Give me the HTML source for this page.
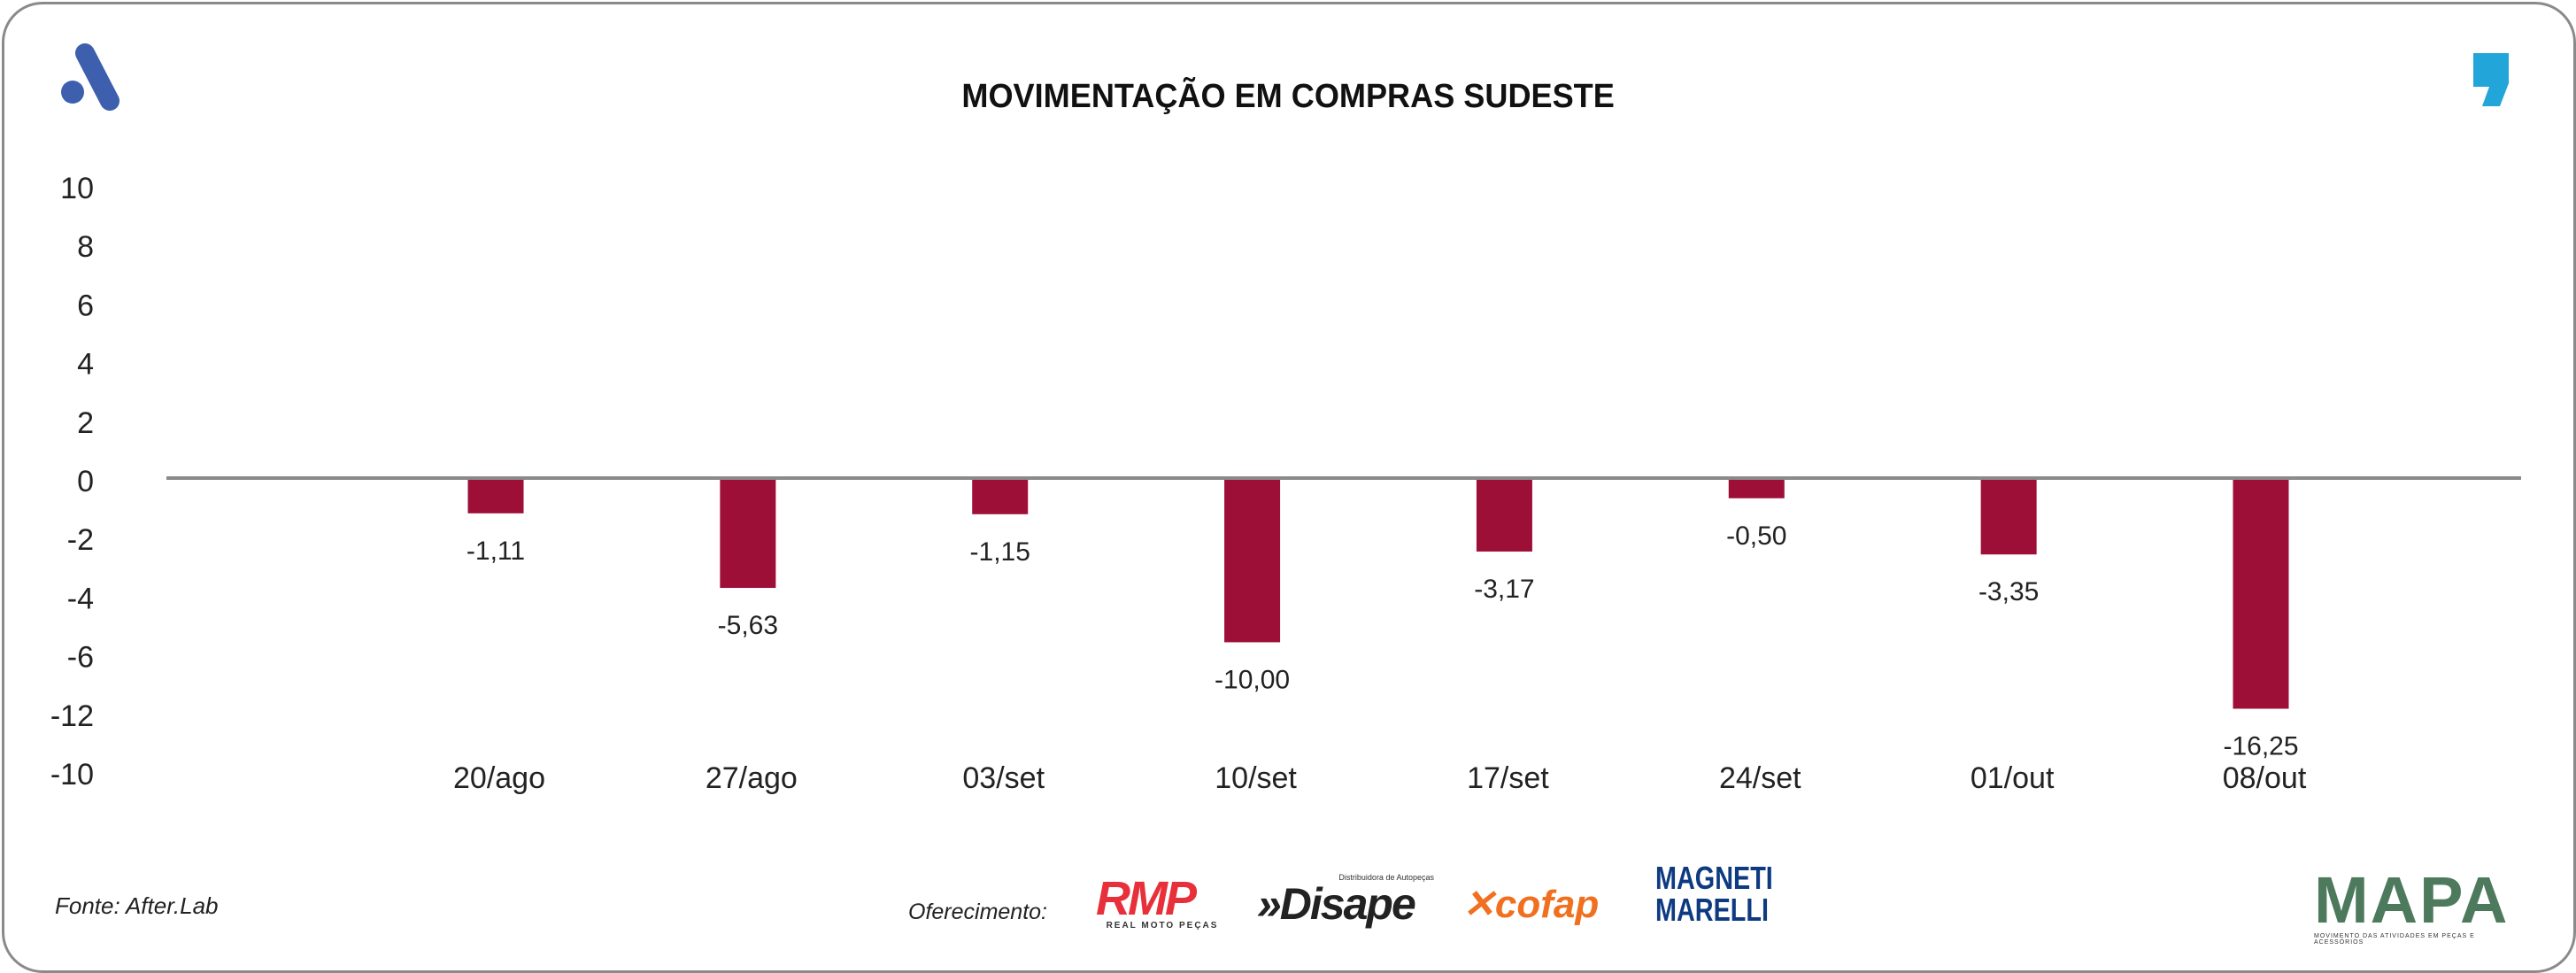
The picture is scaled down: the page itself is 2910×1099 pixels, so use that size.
<!DOCTYPE html>
<html><head><meta charset="utf-8">
<style>
html,body{margin:0;padding:0;background:#fff;}
body{width:2910px;height:1099px;position:relative;overflow:hidden;font-family:"Liberation Sans",sans-serif;}
.frame{position:absolute;left:2px;top:2px;width:2902px;height:1091px;border:3px solid #8a8a8a;border-radius:46px;}
.title{position:absolute;left:0;width:2910px;top:88px;text-align:center;font-weight:bold;font-size:38px;color:#111;}
.title span{display:inline-block;transform:scaleX(0.95);}
.foot{position:absolute;font-style:italic;font-size:26px;color:#222;}
</style></head>
<body>
<div class="frame"></div>
<svg style="position:absolute;left:62px;top:48px" width="86" height="80" viewBox="0 0 86 80">
 <line x1="34" y1="12" x2="62" y2="66" stroke="#3d5fae" stroke-width="22" stroke-linecap="round"/>
 <circle cx="20" cy="56" r="13" fill="#3d5fae"/>
</svg>
<svg style="position:absolute;left:2790px;top:58px" width="50" height="66" viewBox="0 0 50 66">
 <path d="M4 2 H44 V36 L34 62 H14 L22 40 H4 Z" fill="#22a5d8"/>
</svg>
<div class="title"><span>MOVIMENTAÇÃO EM COMPRAS SUDESTE</span></div>
<svg id="chart" style="position:absolute;left:0;top:0" width="2910" height="1099"></svg>
<div class="foot" style="left:62px;top:1008px;">Fonte: After.Lab</div>
<div class="foot" style="left:1026px;top:1016px;font-size:25px;">Oferecimento:</div>
<div style="position:absolute;left:1238px;top:990px;width:150px;height:66px;">
 <div style="font:italic bold 54px 'Liberation Sans',sans-serif;color:#e8303a;line-height:50px;letter-spacing:-3px;">RMP</div>
 <div style="font:bold 10px 'Liberation Sans',sans-serif;color:#333;text-align:center;letter-spacing:2px;">REAL MOTO PEÇAS</div>
</div>
<div style="position:absolute;left:1420px;top:986px;width:200px;height:70px;">
 <div style="font:9px 'Liberation Sans',sans-serif;color:#333;text-align:right;">Distribuidora de Autopeças</div>
 <div style="font:bold italic 50px 'Liberation Sans',sans-serif;color:#222;line-height:50px;letter-spacing:-2px;">»Disape</div>
</div>
<div style="position:absolute;left:1652px;top:992px;width:200px;height:60px;font:bold italic 44px 'Liberation Sans',sans-serif;color:#f07020;line-height:60px;">✕cofap</div>
<div style="position:absolute;left:1870px;top:974px;width:152px;height:76px;font:bold 36px 'Liberation Sans',sans-serif;color:#0e3a82;line-height:36px;transform:scaleX(0.8);transform-origin:left;">MAGNETI<br>MARELLI</div>
<div style="position:absolute;left:2614px;top:980px;width:230px;height:90px;">
 <div style="font:bold 74px 'Liberation Sans',sans-serif;color:#4d7a5c;line-height:74px;letter-spacing:2px;">MAPA</div>
 <div style="font:7px 'Liberation Sans',sans-serif;color:#333;letter-spacing:1px;">MOVIMENTO DAS ATIVIDADES EM PEÇAS E ACESSÓRIOS</div>
</div>
<script>
const categories=["20/ago","27/ago","03/set","10/set","17/set","24/set","01/out","08/out"];
const values=[-1.11,-5.63,-1.15,-10.00,-3.17,-0.50,-3.35,-16.25];
const valueLabels=["-1,11","-5,63","-1,15","-10,00","-3,17","-0,50","-3,35","-16,25"];
const tickLabels=["10","8","6","4","2","0","-2","-4","-6","-12","-10"];
const svg=document.getElementById('chart');
const NS='http://www.w3.org/2000/svg';
const zeroY=540, k=37;
function yScale(v){return zeroY - Math.sign(v)*k*Math.pow(Math.abs(v),0.7);}
const x0=560, x1=2554;
function xScale(i){return x0+(x1-x0)*i/(categories.length-1);}
function mk(t,a){const e=document.createElementNS(NS,t);for(const key in a)e.setAttribute(key,a[key]);svg.appendChild(e);return e;}
tickLabels.forEach((t,i)=>{
 const e=mk('text',{x:106,y:212+i*66.2+12,'text-anchor':'end','font-size':34,fill:'#222','font-family':'Liberation Sans, sans-serif'});
 
 
 e.textContent=t;
});
const bw=63;
values.forEach((v,i)=>{
 const cx=xScale(i), yb=yScale(v);
 const r=mk('rect',{x:cx-bw/2,y:zeroY,width:bw,height:Math.max(0,yb-zeroY),fill:'#9e0f37'});
 
 
 const l=mk('text',{x:cx,y:yb+52,'text-anchor':'middle','font-size':30,fill:'#222','font-family':'Liberation Sans, sans-serif'});
 
 
 l.textContent=valueLabels[i];
 const c=mk('text',{x:cx+4,y:890,'text-anchor':'middle','font-size':34,fill:'#222','font-family':'Liberation Sans, sans-serif'});
 
 
 c.textContent=categories[i];
});
const zl=mk('line',{x1:188,x2:2848,y1:zeroY,y2:zeroY,stroke:'#8a8a8a','stroke-width':4});


</script>
</body></html>
